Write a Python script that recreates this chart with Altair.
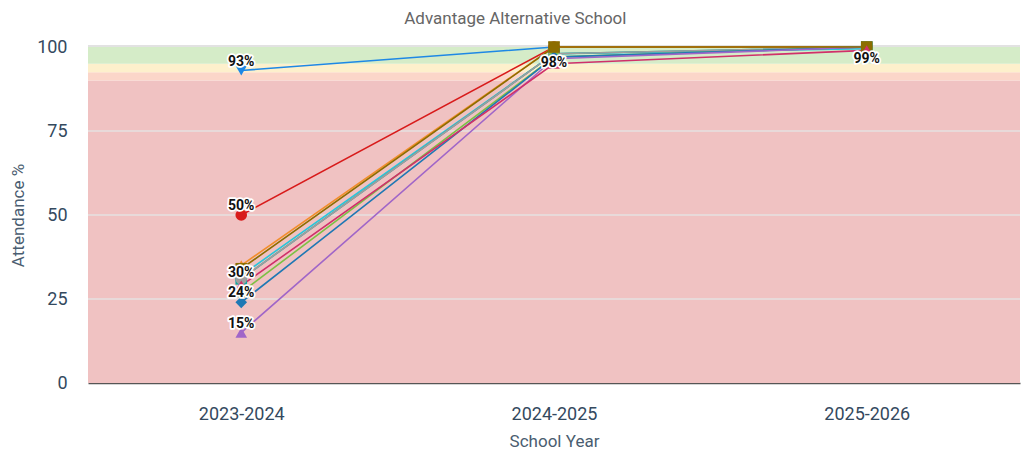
import altair as alt
import pandas as pd

years = ["2023-2024", "2024-2025", "2025-2026"]

series = ["A", "B", "C", "E", "F", "G", "I", "J", "K", "D", "H"]
v2324 = [93, 50, 35, 32, 31, 31, 27, 24, 15, 34, 29]
v2425 = [100, 100, 100, 98, 98, 98, 97, 97, 96.5, 100, 95]
v2526 = [100, 100, 100, 99.5, 100, 100, 100, 100, 100, 100, 99]
colors = ["#1e88e5", "#d81b1b", "#f28e2b", "#26c6da", "#10a5a0", "#9e9e9e",
          "#7cc043", "#1f78b4", "#a066c8", "#8c6d00", "#d0306a"]
shapes = ["triangle-down", "circle", "triangle-up", "square", "square", "circle",
          "circle", "diamond", "triangle-up", "square", "triangle-up"]

band_lo = [0, 90, 92.5, 95]
band_hi = [90, 92.5, 95, 100]
band_name = ["red", "orange", "yellow", "green"]
band_color = ["#f0c2c2", "#fbd6c9", "#fdf0cc", "#d5ecc8"]

grid_vals = [25, 50, 75]

above_year = ["2023-2024"] * 5
above_val = [93, 50, 30, 24, 15]
below_year = ["2024-2025", "2025-2026"]
below_val = [98, 99]

rows = []
for i, s in enumerate(series):
    for y, v in zip(years, [v2324[i], v2425[i], v2526[i]]):
        rows.append({"series": s, "year": y, "value": v, "ord": i})
df = pd.DataFrame(rows)

bands = pd.DataFrame({"lo": band_lo, "hi": band_hi, "name": band_name})
grid = pd.DataFrame({"g": grid_vals})
lab_a = pd.DataFrame({"year": above_year, "value": above_val,
                      "text": [f"{v}%" for v in above_val]})
lab_b = pd.DataFrame({"year": below_year, "value": below_val,
                      "text": [f"{v}%" for v in below_val]})

yscale = alt.Scale(domain=[0, 100], nice=False)
yaxis = alt.Axis(title="Attendance %", values=[0, 25, 50, 75, 100],
                 ticks=False, domain=False, grid=False,
                 labelPadding=21, titlePadding=9, titleFontSize=17)
xenc = alt.X("year:N", sort=years, scale=alt.Scale(domain=years, padding=0.49),
             axis=alt.Axis(title="School Year", labelAngle=0, ticks=False,
                           labelPadding=22, titlePadding=10, grid=False,
                           domainColor="#555555", domainWidth=1.5))

band_layer = alt.Chart(bands).mark_rect().encode(
    y=alt.Y("lo:Q", scale=yscale, axis=yaxis), y2="hi:Q",
    color=alt.Color("name:N", scale=alt.Scale(domain=band_name, range=band_color), legend=None),
)
top_rule = alt.Chart(bands).mark_rule(color="#e2e2e2", strokeWidth=2).encode(
    y=alt.value(-1)
)
grid_layer = alt.Chart(grid).mark_rule(color="#e6e0e0", strokeWidth=1.5).encode(
    y=alt.Y("g:Q", scale=yscale)
)

cscale = alt.Scale(domain=series, range=colors)
sscale = alt.Scale(domain=series, range=shapes)

lines = alt.Chart(df).mark_line(strokeWidth=1.6).encode(
    x=xenc, y=alt.Y("value:Q", scale=yscale),
    color=alt.Color("series:N", scale=cscale, legend=None),
    order="ord:Q",
)
points = alt.Chart(df).mark_point(filled=True, size=135, opacity=1).encode(
    x=alt.X("year:N", sort=years), y=alt.Y("value:Q", scale=yscale),
    color=alt.Color("series:N", scale=cscale, legend=None),
    shape=alt.Shape("series:N", scale=sscale, legend=None),
    order="ord:Q",
)

def labels(d, dy):
    base = alt.Chart(d).encode(
        x=alt.X("year:N", sort=years), y=alt.Y("value:Q", scale=yscale), text="text:N"
    )
    halo = base.mark_text(font="Roboto", fontSize=14, fontWeight="bold", dy=dy,
                          stroke="white", strokeWidth=3.5, strokeJoin="round", fill="white")
    fg = base.mark_text(font="Roboto", fontSize=14, fontWeight="bold", dy=dy, fill="#111111")
    return halo + fg

chart = alt.layer(
    band_layer, grid_layer, top_rule, lines, points, labels(lab_a, -9), labels(lab_b, 9)
).resolve_scale(color="independent").properties(
    width=932, height=336,
    padding={"left": 1, "top": 2, "right": 0, "bottom": 0},
    title=alt.TitleParams("Advantage Alternative School", font="Roboto", fontSize=17,
                          fontWeight="normal", color="#666666", offset=10,
                          frame="bounds", anchor="middle"),
).configure_view(stroke=None).configure_axis(
    labelFont="Roboto", titleFont="Roboto", labelFontSize=18, titleFontSize=17,
    labelColor="#34495e", titleColor="#4a5d70", titleFontWeight="normal",
)

chart.save("out.html", embed_options={"renderer": "svg", "actions": False})
